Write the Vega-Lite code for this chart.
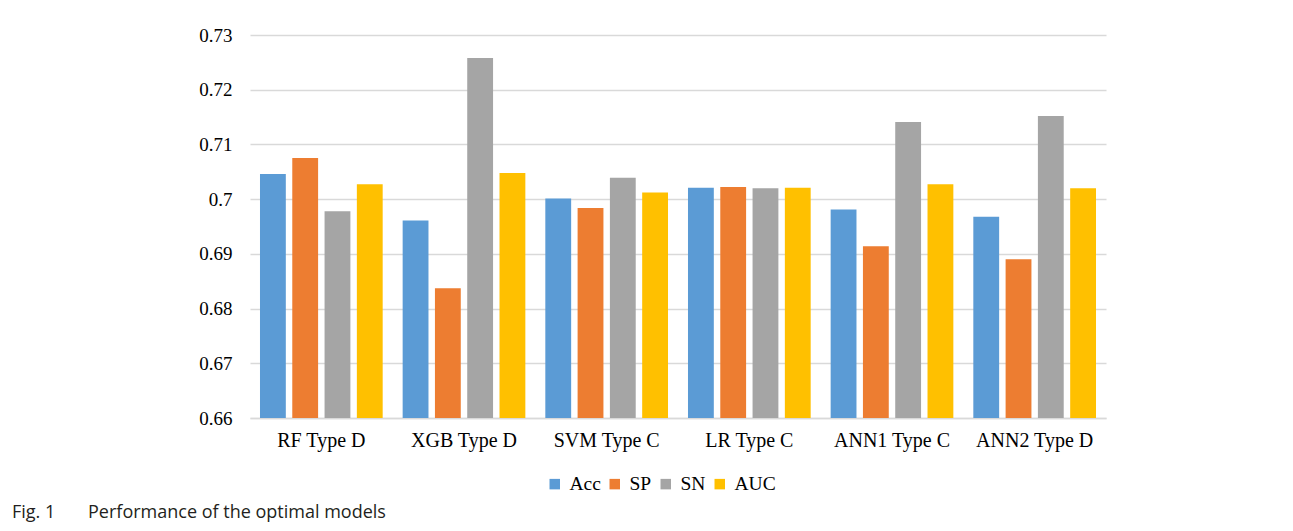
{
  "$schema": "https://vega.github.io/schema/vega-lite/v6.json",
  "autosize": {"type": "none"},
  "padding": {"left": 250, "top": 35, "right": 187, "bottom": 113},
  "width": 856,
  "height": 383,
  "background": "white",
  "title": {
    "text": "Fig. 1\u00a0\u00a0\u00a0\u00a0\u00a0\u00a0\u00a0Performance of the optimal models",
    "orient": "bottom",
    "anchor": "start",
    "frame": "group",
    "dx": -238,
    "font": "Open Sans",
    "fontSize": 18,
    "fontWeight": "normal",
    "color": "#231f20",
    "offset": 10
  },
  "data": {
    "values": [
      {"model": "RF Type D", "metric": "Acc", "value": 0.7046},
      {"model": "RF Type D", "metric": "SP", "value": 0.7075},
      {"model": "RF Type D", "metric": "SN", "value": 0.6978},
      {"model": "RF Type D", "metric": "AUC", "value": 0.7027},
      {"model": "XGB Type D", "metric": "Acc", "value": 0.6961},
      {"model": "XGB Type D", "metric": "SP", "value": 0.6837},
      {"model": "XGB Type D", "metric": "SN", "value": 0.7258},
      {"model": "XGB Type D", "metric": "AUC", "value": 0.7048},
      {"model": "SVM Type C", "metric": "Acc", "value": 0.7001},
      {"model": "SVM Type C", "metric": "SP", "value": 0.6984},
      {"model": "SVM Type C", "metric": "SN", "value": 0.7039},
      {"model": "SVM Type C", "metric": "AUC", "value": 0.7012},
      {"model": "LR Type C", "metric": "Acc", "value": 0.7021},
      {"model": "LR Type C", "metric": "SP", "value": 0.7022},
      {"model": "LR Type C", "metric": "SN", "value": 0.7020},
      {"model": "LR Type C", "metric": "AUC", "value": 0.7021},
      {"model": "ANN1 Type C", "metric": "Acc", "value": 0.6981},
      {"model": "ANN1 Type C", "metric": "SP", "value": 0.6914},
      {"model": "ANN1 Type C", "metric": "SN", "value": 0.7141},
      {"model": "ANN1 Type C", "metric": "AUC", "value": 0.7027},
      {"model": "ANN2 Type D", "metric": "Acc", "value": 0.6968},
      {"model": "ANN2 Type D", "metric": "SP", "value": 0.6890},
      {"model": "ANN2 Type D", "metric": "SN", "value": 0.7152},
      {"model": "ANN2 Type D", "metric": "AUC", "value": 0.7020}
    ]
  },
  "mark": {"type": "bar", "clip": true},
  "encoding": {
    "x": {
      "field": "model",
      "type": "nominal",
      "sort": null,
      "scale": {"paddingInner": 0.14, "paddingOuter": 0.07},
      "axis": {
        "title": null,
        "labelAngle": 0,
        "labelFont": "Liberation Serif",
        "labelFontSize": 20,
        "labelColor": "#000000",
        "labelPadding": 12,
        "ticks": false,
        "tickSize": 0,
        "domain": true,
        "domainColor": "#d9d9d9",
        "domainWidth": 1.5,
        "grid": false
      }
    },
    "xOffset": {
      "field": "metric",
      "type": "nominal",
      "sort": ["Acc", "SP", "SN", "AUC"],
      "scale": {"paddingInner": 0.2, "paddingOuter": 0}
    },
    "y": {
      "field": "value",
      "type": "quantitative",
      "scale": {"domain": [0.66, 0.73], "zero": false, "nice": false},
      "axis": {
        "title": null,
        "values": [0.66, 0.67, 0.68, 0.69, 0.7, 0.71, 0.72, 0.73],
        "format": ".2~f",
        "labelFont": "Liberation Serif",
        "labelFontSize": 19,
        "labelColor": "#000000",
        "labelPadding": 18,
        "ticks": false,
        "tickSize": 0,
        "domain": false,
        "grid": true,
        "gridColor": "#d9d9d9",
        "gridWidth": 1.5
      }
    },
    "color": {
      "field": "metric",
      "type": "nominal",
      "sort": ["Acc", "SP", "SN", "AUC"],
      "scale": {
        "domain": ["Acc", "SP", "SN", "AUC"],
        "range": ["#5B9BD5", "#ED7D31", "#A5A5A5", "#FFC000"]
      },
      "legend": {
        "title": null,
        "orient": "none",
        "legendX": 295,
        "legendY": 439,
        "direction": "horizontal",
        "symbolType": "square",
        "symbolSize": 110,
        "symbolStrokeWidth": 0,
        "labelFont": "Liberation Serif",
        "labelFontSize": 19.5,
        "labelColor": "#000000",
        "labelOffset": 5,
        "columnPadding": 4
      }
    }
  },
  "config": {
    "view": {"stroke": null}
  }
}
